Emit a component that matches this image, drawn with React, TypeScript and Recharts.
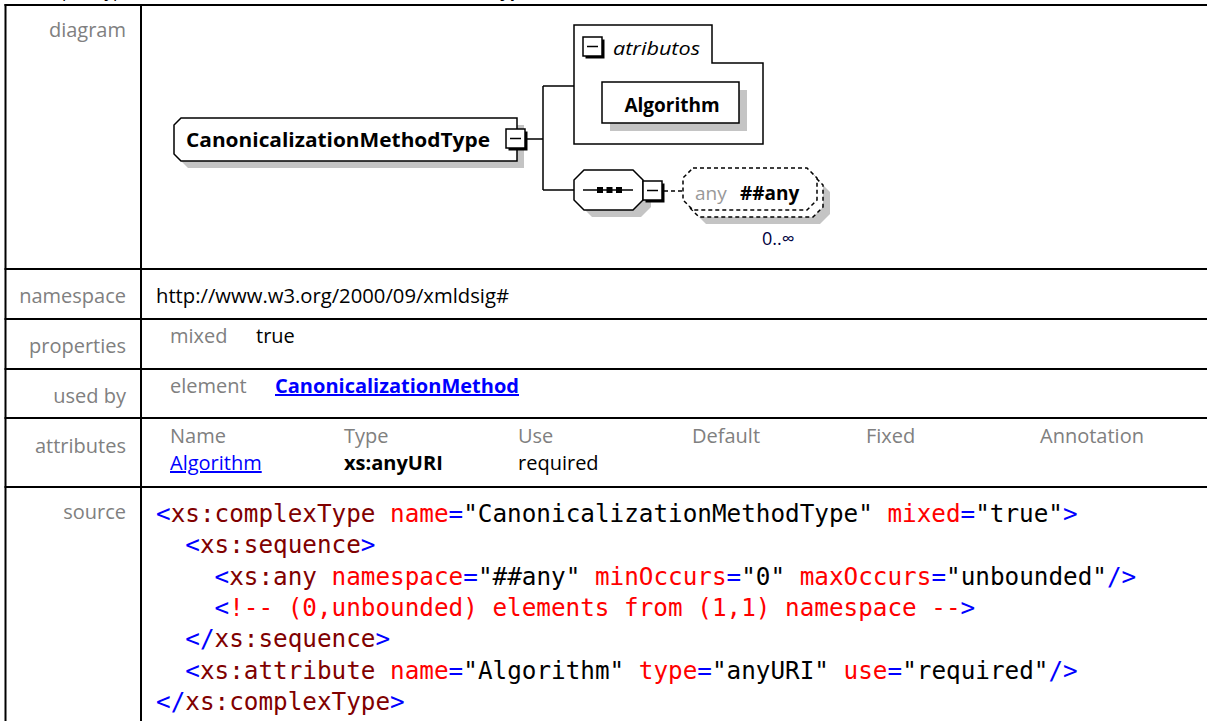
import React from "react";
import { Surface, Layer, Rectangle, Polygon } from "recharts";

const W = 1207;
const H = 721;

// table content
const rowLabels = ["diagram", "namespace", "properties", "used by", "attributes", "source"];
const namespaceUri = "http://www.w3.org/2000/09/xmldsig#";
const propertyNames = ["mixed"];
const propertyValues = ["true"];
const usedByKinds = ["element"];
const usedByNames = ["CanonicalizationMethod"];
const attrHeaders = ["Name", "Type", "Use", "Default", "Fixed", "Annotation"];
const attrNames = ["Algorithm"];
const attrTypes = ["xs:anyURI"];
const attrUses = ["required"];

// diagram content
const headingKind = "complexType";
const typeName = "CanonicalizationMethodType";
const groupLabel = "atributos";
const groupAttrs = ["Algorithm"];
const wildcardKind = "any";
const wildcardNs = "##any";
const wildcardOccurs = "0..\u221e";

// source tokens: b = punctuation, t = tag, a = attribute, v = value/plain, c = comment
const sourceLines: [string, string][][] = [
  [["b", "<"], ["t", "xs:complexType"], ["v", " "], ["a", "name"], ["b", "="], ["v", "\"CanonicalizationMethodType\" "], ["a", "mixed"], ["b", "="], ["v", "\"true\""], ["b", ">"]],
  [["v", "  "], ["b", "<"], ["t", "xs:sequence"], ["b", ">"]],
  [["v", "    "], ["b", "<"], ["t", "xs:any"], ["v", " "], ["a", "namespace"], ["b", "="], ["v", "\"##any\" "], ["a", "minOccurs"], ["b", "="], ["v", "\"0\" "], ["a", "maxOccurs"], ["b", "="], ["v", "\"unbounded\""], ["b", "/>"]],
  [["v", "    "], ["b", "<"], ["c", "!-- (0,unbounded) elements from (1,1) namespace --"], ["b", ">"]],
  [["v", "  "], ["b", "</"], ["t", "xs:sequence"], ["b", ">"]],
  [["v", "  "], ["b", "<"], ["t", "xs:attribute"], ["v", " "], ["a", "name"], ["b", "="], ["v", "\"Algorithm\" "], ["a", "type"], ["b", "="], ["v", "\"anyURI\" "], ["a", "use"], ["b", "="], ["v", "\"required\""], ["b", "/>"]],
  [["b", "</"], ["t", "xs:complexType"], ["b", ">"]],
];

const tokenColors: Record<string, string> = {
  b: "#0000ff",
  t: "#800000",
  a: "#ff0000",
  v: "#000000",
  c: "#ff0000",
};

const UI = "'Open Sans', 'Noto Sans', sans-serif";
const MONO = "'DejaVu Sans Mono', monospace";
const GRAY = "#808080";
const SHADOW = "#c4c4c4";

// layout
const rowLines = [5, 269, 319, 369, 418, 487];
const labelBaselines = [37, 303, 353, 403, 453, 519];
const colX = 141;
const attrColX = [170, 344, 518, 692, 866, 1040];

function octagon(x: number, y: number, w: number, h: number, c: number) {
  return [
    { x: x + c, y },
    { x: x + w - c, y },
    { x: x + w, y: y + c },
    { x: x + w, y: y + h - c },
    { x: x + w - c, y: y + h },
    { x: x + c, y: y + h },
    { x, y: y + h - c },
    { x, y: y + c },
  ];
}

function MinusBox({ x, y }: { x: number; y: number }) {
  const s = 19;
  return (
    <Layer>
      <Rectangle x={x + 2.5} y={y + 2.5} width={s} height={s} fill="#000" />
      <Rectangle x={x} y={y} width={s} height={s} fill="#fff" stroke="#000" strokeWidth={1.5} />
      <line x1={x + 4} y1={y + s / 2} x2={x + s - 4} y2={y + s / 2} stroke="#000" strokeWidth={1.5} />
    </Layer>
  );
}

function Diagram() {
  const el = octagon(174, 118, 343, 43, 7).map((p, i) => (i === 2 || i === 4 ? { ...p, x: 517 } : p));
  const elPts = [
    { x: 181, y: 118 },
    { x: 517, y: 118 },
    { x: 517, y: 161 },
    { x: 181, y: 161 },
    { x: 174, y: 154 },
    { x: 174, y: 125 },
  ];
  const group = [
    { x: 574, y: 25 },
    { x: 712, y: 25 },
    { x: 712, y: 63 },
    { x: 763, y: 63 },
    { x: 763, y: 144 },
    { x: 574, y: 144 },
  ];
  const seq = octagon(574, 170, 69, 40, 10);
  const any = octagon(683, 168, 134, 42, 10);
  const shift = (pts: { x: number; y: number }[], dx: number, dy: number) => pts.map((p) => ({ x: p.x + dx, y: p.y + dy }));
  void el;
  return (
    <Layer>
      {/* element */}
      <Polygon points={shift(elPts, 7, 7)} fill={SHADOW} stroke="none" />
      <Polygon points={elPts} fill="#fff" stroke="#000" strokeWidth={1.5} />
      <text x={186} y={147} fontFamily={UI} fontWeight="bold" fontSize={19} textLength={304} lengthAdjust="spacingAndGlyphs" fill="#000">
        {typeName}
      </text>
      <MinusBox x={506} y={129} />

      {/* connectors */}
      <path d="M525,139H543M543,86V190M543,86H574M543,190H574" stroke="#000" strokeWidth={1.5} fill="none" />

      {/* attribute group */}
      <Polygon points={group} fill="#fff" stroke="#000" strokeWidth={1.5} />
      <MinusBox x={583} y={37} />
      <text x={613} y={55} fontFamily={UI} fontStyle="italic" fontSize={19} textLength={87} lengthAdjust="spacingAndGlyphs" fill="#000">
        {groupLabel}
      </text>
      {groupAttrs.map((a, i) => (
        <Layer key={a}>
          <Rectangle x={610} y={90 + i * 50} width={137} height={41} fill={SHADOW} />
          <Rectangle x={602} y={82 + i * 50} width={137} height={41} fill="#fff" stroke="#000" strokeWidth={1.5} />
          <text x={672} y={112 + i * 50} textAnchor="middle" fontFamily={UI} fontWeight="bold" fontSize={19} fill="#000">
            {a}
          </text>
        </Layer>
      ))}

      {/* sequence */}
      <Polygon points={shift(seq, 8, 7)} fill={SHADOW} stroke="none" />
      <Polygon points={seq} fill="#fff" stroke="#000" strokeWidth={1.5} />
      <line x1={583} y1={190} x2={633} y2={190} stroke="#000" strokeWidth={1.5} />
      {[597, 606.5, 616].map((x) => (
        <Rectangle key={x} x={x} y={187} width={6} height={6} fill="#000" />
      ))}
      <MinusBox x={643} y={181} />
      <line x1={664} y1={191} x2={683} y2={191} stroke="#000" strokeWidth={1.5} strokeDasharray="4 3" />

      {/* wildcard */}
      <Polygon points={shift(any, 13, 14)} fill={SHADOW} stroke="none" />
      <Polygon points={shift(any, 6, 7)} fill="#fff" stroke="#000" strokeWidth={1.5} strokeDasharray="4 3" />
      <Polygon points={any} fill="#fff" stroke="#000" strokeWidth={1.5} strokeDasharray="4 3" />
      <text x={695} y={200} fontFamily={UI} fontSize={19} fill="#999">
        {wildcardKind}
      </text>
      <text x={740} y={200} fontFamily={UI} fontWeight="bold" fontSize={19} fill="#000">
        {wildcardNs}
      </text>
      <text x={762} y={245} fontFamily={UI} fontSize={18} fill="#000040">
        {wildcardOccurs}
      </text>
    </Layer>
  );
}

export default function App() {
  return (
    <div style={{ position: "absolute", left: 0, top: 0, width: W, height: H, background: "#fff", overflow: "hidden" }}>
      <Surface width={W} height={H} viewBox={{ x: 0, y: 0, width: W, height: H }}>
        <Rectangle x={0} y={0} width={W} height={H} fill="#fff" />

        {/* heading, cut off at the top */}
        <text x={28} y={-3} fontFamily={UI} fontSize={17} fill="#000">
          {headingKind}
        </text>
        <text x={283} y={-3} fontFamily={UI} fontWeight="bold" fontSize={17} fill="#000">
          {typeName}
        </text>

        {/* grid */}
        {rowLines.map((y) => (
          <line key={y} x1={4.5} y1={y} x2={W} y2={y} stroke="#000" strokeWidth={2} />
        ))}
        <line x1={5.5} y1={4} x2={5.5} y2={H} stroke="#000" strokeWidth={2} />
        <line x1={colX} y1={4} x2={colX} y2={H} stroke="#000" strokeWidth={2} />

        {/* row labels */}
        {rowLabels.map((l, i) => (
          <text key={l} x={126} y={labelBaselines[i]} textAnchor="end" fontFamily={UI} fontSize={20} fill={GRAY}>
            {l}
          </text>
        ))}

        <Diagram />

        {/* namespace */}
        <text x={156} y={303} fontFamily={UI} fontSize={20} fill="#000" textLength={353} lengthAdjust="spacingAndGlyphs">
          {namespaceUri}
        </text>

        {/* properties */}
        {propertyNames.map((p, i) => (
          <Layer key={p}>
            <text x={170} y={343} fontFamily={UI} fontSize={20} fill={GRAY}>
              {p}
            </text>
            <text x={256} y={343} fontFamily={UI} fontSize={20} fill="#000">
              {propertyValues[i]}
            </text>
          </Layer>
        ))}

        {/* used by */}
        {usedByKinds.map((k, i) => (
          <Layer key={k}>
            <text x={170} y={393} fontFamily={UI} fontSize={20} fill={GRAY}>
              {k}
            </text>
            <text x={275} y={393} fontFamily={UI} fontSize={20} fontWeight="bold" fill="#0000ff" textDecoration="underline" textLength={244} lengthAdjust="spacingAndGlyphs">
              {usedByNames[i]}
            </text>
          </Layer>
        ))}

        {/* attributes */}
        {attrHeaders.map((h, i) => (
          <text key={h} x={attrColX[i]} y={443} fontFamily={UI} fontSize={20} fill={GRAY}>
            {h}
          </text>
        ))}
        {attrNames.map((n, i) => (
          <Layer key={n}>
            <text x={attrColX[0]} y={470} fontFamily={UI} fontSize={20} fill="#0000ff" textDecoration="underline">
              {n}
            </text>
            <text x={attrColX[1]} y={470} fontFamily={UI} fontSize={20} fontWeight="bold" fill="#000">
              {attrTypes[i]}
            </text>
            <text x={attrColX[2]} y={470} fontFamily={UI} fontSize={20} fill="#000">
              {attrUses[i]}
            </text>
          </Layer>
        ))}

        {/* source */}
        {sourceLines.map((line, i) => (
          <text key={i} x={156} y={521.7 + i * 31.4} fontFamily={MONO} fontSize={24.3} style={{ whiteSpace: "pre" }}>
            {line.map(([k, s], j) => (
              <tspan key={j} fill={tokenColors[k]}>
                {s}
              </tspan>
            ))}
          </text>
        ))}
      </Surface>
    </div>
  );
}
